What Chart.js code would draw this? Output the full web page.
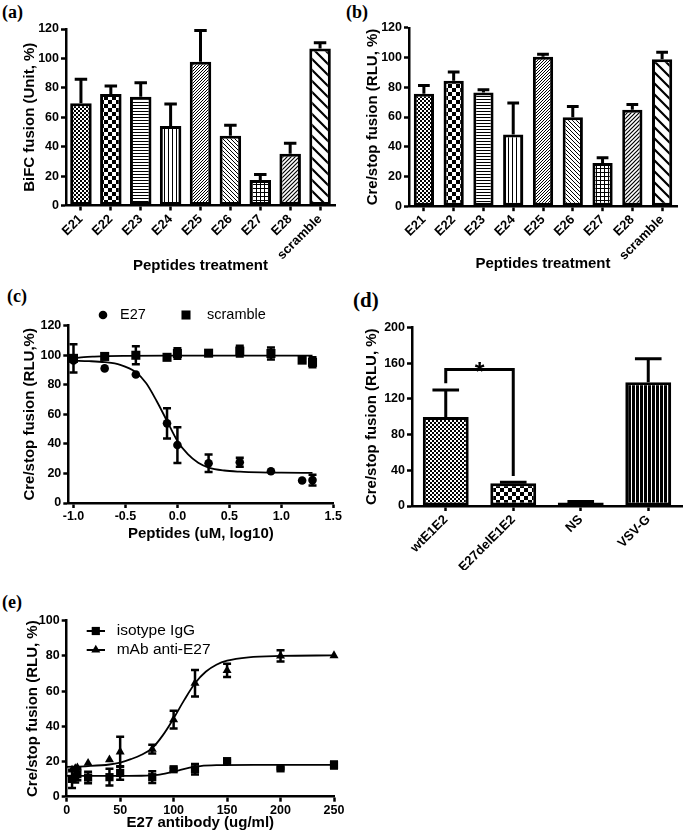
<!DOCTYPE html>
<html>
<head>
<meta charset="utf-8">
<script src="https://cdn.jsdelivr.net/npm/chart.js@4.4.1/dist/chart.umd.min.js"></script>
<style>
  html,body{margin:0;padding:0;background:#fff;}
  body{width:685px;height:838px;position:relative;overflow:hidden;}
  canvas{position:absolute;}
  .plabel{position:absolute;font-family:"Liberation Serif","Times New Roman",serif;font-weight:bold;font-size:18px;line-height:20px;color:#000;}
</style>
</head>
<body>
<div class="plabel" style="left:2px;top:2px">(a)</div>
<div class="plabel" style="left:346px;top:2px">(b)</div>
<div class="plabel" style="left:7px;top:286px">(c)</div>
<div class="plabel" style="left:353px;top:290px;font-size:21px">(d)</div>
<div class="plabel" style="left:2px;top:592px">(e)</div>

<canvas id="ca" width="340" height="285" style="left:0;top:0"></canvas>
<canvas id="cb" width="345" height="285" style="left:340px;top:0"></canvas>
<canvas id="cc" width="345" height="270" style="left:0;top:280px"></canvas>
<canvas id="cd" width="345" height="290" style="left:340px;top:280px"></canvas>
<canvas id="ce" width="345" height="258" style="left:0;top:580px"></canvas>

<script>
// ---------------- DATA ----------------
// Panel (a)
const peptides = ['E21','E22','E23','E24','E25','E26','E27','E28','scramble'];
const bifcMean = [69.5, 75.8, 74.0, 54.0, 97.7, 47.4, 17.4, 35.2, 106.7];
const bifcErr  = [16.3, 5.4, 9.5, 15.0, 21.3, 7.2, 3.7, 7.2, 4.0];
const aYTicks  = [0, 20, 40, 60, 80, 100, 120];

// Panel (b)
const creMean = [75.6, 84.4, 76.5, 48.2, 100.6, 59.9, 29.1, 64.8, 98.9];
const creErr  = [5.6, 5.9, 1.8, 21.3, 1.6, 7.1, 3.5, 3.6, 4.6];
const bYTicks = [0, 20, 40, 60, 80, 100, 120];

// Panel (c)
const cDoseX   = [-1.0, -0.7, -0.4, -0.1, 0.0, 0.3, 0.6, 0.9, 1.2, 1.3];
const e27Y     = [96.5, 91.1, 87.0, 53.9, 39.2, 26.9, 27.6, 21.5, 15.2, 15.5];
const e27Err   = [0, 0, 0, 10.3, 12.1, 5.9, 3.1, 0, 0, 3.6];
const scrY     = [97.9, 99.2, 100.0, 98.6, 101.2, 101.4, 102.8, 101.2, 96.7, 95.2];
const scrErr   = [9.5, 0, 6.1, 0, 3.6, 0, 3.7, 4.0, 1.2, 3.4];
const e27FitX  = [-1.0, -0.85, -0.7, -0.55, -0.4, -0.3, -0.2, -0.1, 0.0, 0.1, 0.2, 0.3, 0.45, 0.6, 0.8, 1.0, 1.3];
const e27FitY  = [96.3, 96.0, 95.3, 93.5, 88.5, 81.0, 69.0, 55.5, 42.0, 33.0, 27.2, 24.0, 22.0, 21.2, 20.7, 20.5, 20.4];
const scrFitX  = [-1.0, -0.9, -0.8, -0.7, -0.5, 0.0, 0.5, 1.0, 1.3];
const scrFitY  = [98.0, 98.7, 99.1, 99.4, 99.6, 99.7, 99.7, 99.7, 99.7];
const cXTicks  = [-1.0, -0.5, 0.0, 0.5, 1.0, 1.5];
const cYTicks  = [0, 20, 40, 60, 80, 100, 120];

// Panel (d)
const constructs = ['wtE1E2', 'E27delE1E2', 'NS', 'VSV-G'];
const dMean   = [99.6, 25.5, 3.8, 138.6];
const dErr    = [30.5, 1.0, 1.3, 26.4];
const dYTicks = [0, 40, 80, 120, 160, 200];
const dSigPair   = [0, 1];
const dSigLevels = [137.5, 153, 33.6];   // left end, bracket top, right end
const dSigLabel  = '*';

// Panel (e)
const abDose   = [5, 8, 10, 20, 40, 50, 80, 100, 120, 150, 200, 250];
const igY      = [10.1, 11.4, 12.8, 10.9, 11.1, 13.5, 11.1, 15.6, 15.6, 20.2, 16.1, 18.0];
const igErr    = [5.2, 3.3, 3.4, 3.3, 4.8, 3.8, 3.3, 0.8, 3.0, 0.5, 0.5, 2.0];
const antiY    = [15.2, 16.0, 16.5, 19.1, 21.0, 25.5, 27.0, 43.8, 64.5, 71.8, 80.0, 80.2];
const antiErr  = [0, 0, 0, 0, 0, 8.5, 2.5, 5.0, 7.5, 3.8, 3.2, 0];
const igFitX   = [0, 40, 70, 85, 95, 105, 115, 125, 140, 175, 250];
const igFitY   = [11.8, 11.8, 11.9, 12.4, 13.5, 15.0, 16.5, 17.4, 17.9, 18.1, 18.1];
const antiFitX = [0, 20, 40, 50, 60, 70, 80, 90, 100, 110, 120, 130, 140, 150, 170, 200, 250];
const antiFitY = [17.0, 17.4, 18.3, 19.4, 21.3, 23.8, 27.6, 35.0, 44.5, 55.0, 64.5, 71.0, 75.0, 77.3, 79.2, 80.0, 80.3];
const eXTicks  = [0, 50, 100, 150, 200, 250];
const eYTicks  = [0, 20, 40, 60, 80, 100];

// ---------------- STYLE HELPERS ----------------
const FONT = '"Liberation Sans", Arial, Helvetica, sans-serif';
const BLACK = '#000';

function diag(g, s, lw, up) {
  g.lineWidth = lw; g.beginPath();
  if (up) {
    g.moveTo(-1, s + 1); g.lineTo(s + 1, -1);
    g.moveTo(-1, 1); g.lineTo(1, -1);
    g.moveTo(s - 1, s + 1); g.lineTo(s + 1, s - 1);
  } else {
    g.moveTo(-1, -1); g.lineTo(s + 1, s + 1);
    g.moveTo(-1, s - 1); g.lineTo(1, s + 1);
    g.moveTo(s - 1, -1); g.lineTo(s + 1, 1);
  }
  g.stroke();
}
function makePattern(kind) {
  const sizes = {fine:4, checker:8, hlines:3, vlines:4, slashFine:3, back:4, grid:4, slash:4, scramble:11, solid:2, vsv:4};
  const s = sizes[kind];
  const c = document.createElement('canvas'); c.width = s; c.height = s;
  const g = c.getContext('2d');
  g.fillStyle = '#fff'; g.fillRect(0, 0, s, s);
  g.fillStyle = '#000'; g.strokeStyle = '#000';
  switch (kind) {
    case 'fine': g.fillRect(0,0,2,2); g.fillRect(2,2,2,2); break;
    case 'checker': g.fillRect(0,0,4,4); g.fillRect(4,4,4,4); break;
    case 'hlines': g.fillRect(0,0,s,1); break;
    case 'vlines': g.fillRect(0,0,1,s); break;
    case 'grid': g.fillRect(0,0,s,1); g.fillRect(0,0,1,s); break;
    case 'solid': g.fillRect(0,0,s,s); break;
    case 'vsv': g.fillRect(0,0,3,s); break;
    case 'slashFine': diag(g, s, 1, true); break;
    case 'slash': diag(g, s, 1.2, true); break;
    case 'back': diag(g, s, 1, false); break;
    case 'scramble': diag(g, s, 2.2, false); break;
  }
  return g.createPattern(c, 'repeat');
}
const peptidePatterns = ['fine','checker','hlines','vlines','slashFine','back','grid','slash','scramble'].map(makePattern);
const constructPatterns = ['fine','checker','solid','vsv'].map(makePattern);

function tickFont(size) { return {family: FONT, size: size, weight: 'bold'}; }
function titleOpt(text) {
  return {display: true, text: text, color: BLACK, font: {family: FONT, size: 15, weight: 'bold'}, padding: {top: 4, bottom: 4}};
}
function gridOpt(offset) {
  return {display: true, offset: offset, drawOnChartArea: false, drawTicks: true, tickLength: 5, tickColor: BLACK, tickWidth: 2.5, color: BLACK};
}
function yAxis(min, max, tickArr, title, width) {
  return {
    type: 'linear', min: min, max: max,
    afterBuildTicks: s => { s.ticks = tickArr.map(v => ({value: v})); },
    afterFit: s => { s.width = width; },
    ticks: {color: BLACK, font: tickFont(12.5), padding: 2},
    grid: gridOpt(false),
    border: {display: true, color: BLACK, width: 2.5},
    title: titleOpt(title)
  };
}
function xCategory(title, height) {
  return {
    type: 'category', offset: true,
    afterFit: s => { s.height = height; s.paddingLeft = 0; s.paddingRight = 0; },
    ticks: {color: BLACK, font: tickFont(13), minRotation: 45, maxRotation: 45, autoSkip: false, padding: 1},
    grid: gridOpt(false),
    border: {display: true, color: BLACK, width: 2.5},
    title: title ? titleOpt(title) : {display: false}
  };
}
function xLinear(min, max, tickArr, title, height, fmt) {
  return {
    type: 'linear', min: min, max: max,
    afterBuildTicks: s => { s.ticks = tickArr.map(v => ({value: v})); },
    afterFit: s => { s.height = height; s.paddingLeft = 0; s.paddingRight = 0; },
    ticks: {color: BLACK, font: tickFont(12.5), minRotation: 0, maxRotation: 0, padding: 1, callback: fmt},
    grid: gridOpt(false),
    border: {display: true, color: BLACK, width: 2.5},
    title: titleOpt(title)
  };
}
function baseOptions(scales, padding) {
  return {
    responsive: false, animation: false, devicePixelRatio: 1, events: [],
    layout: {padding: padding},
    plugins: {legend: {display: false}, tooltip: {enabled: false}, title: {display: false}},
    scales: scales
  };
}

// ---------------- PLUGINS ----------------
const errorBarPlugin = {
  id: 'errorBars',
  afterDatasetsDraw(chart) {
    const ctx = chart.ctx;
    chart.data.datasets.forEach((ds, di) => {
      if (!ds.errors) return;
      const meta = chart.getDatasetMeta(di);
      const yScale = chart.scales[meta.yAxisID];
      ctx.save();
      ctx.strokeStyle = BLACK;
      ctx.lineWidth = ds.errorLineWidth || 2.5;
      ctx.lineCap = 'butt';
      meta.data.forEach((el, i) => {
        const e = ds.errors[i];
        if (!e) return;
        const raw = ds.data[i];
        const v = (typeof raw === 'object') ? raw.y : raw;
        const x = el.x;
        ctx.beginPath();
        if (ds.errorMode === 'up') {
          const y1 = yScale.getPixelForValue(v);
          const y2 = yScale.getPixelForValue(v + e);
          const half = el.width * ds.capRatio / 2;
          ctx.moveTo(x, y1); ctx.lineTo(x, y2);
          ctx.moveTo(x - half, y2); ctx.lineTo(x + half, y2);
        } else {
          const y1 = yScale.getPixelForValue(v - e);
          const y2 = yScale.getPixelForValue(v + e);
          const half = ds.capHalf || 4;
          ctx.moveTo(x, y1); ctx.lineTo(x, y2);
          ctx.moveTo(x - half, y1); ctx.lineTo(x + half, y1);
          ctx.moveTo(x - half, y2); ctx.lineTo(x + half, y2);
        }
        ctx.stroke();
      });
      ctx.restore();
    });
  }
};

function pointLegend(items, fontSize) {
  return {
    id: 'pointLegend',
    afterDraw(chart) {
      const ctx = chart.ctx;
      ctx.save();
      ctx.fillStyle = BLACK; ctx.strokeStyle = BLACK;
      ctx.font = fontSize + 'px ' + FONT;
      ctx.textBaseline = 'middle'; ctx.textAlign = 'left';
      items.forEach(it => {
        const ds = chart.data.datasets[it.ds];
        if (it.lineFrom != null) {
          ctx.lineWidth = 2;
          ctx.beginPath(); ctx.moveTo(it.lineFrom, it.y); ctx.lineTo(it.lineTo, it.y); ctx.stroke();
        }
        Chart.helpers.drawPoint(ctx, {pointStyle: ds.pointStyle, radius: ds.pointRadius, borderWidth: 0, rotation: 0}, it.x, it.y);
        ctx.fillText(ds.label, it.tx, it.y);
      });
      ctx.restore();
    }
  };
}

function bracketPlugin(pair, levels, label) {
  return {
    id: 'sigBracket',
    afterDatasetsDraw(chart) {
      const ctx = chart.ctx, xs = chart.scales.x, ys = chart.scales.y;
      const x1 = xs.getPixelForValue(pair[0]), x2 = xs.getPixelForValue(pair[1]);
      const yl = ys.getPixelForValue(levels[0]), yt = ys.getPixelForValue(levels[1]), yr = ys.getPixelForValue(levels[2]);
      ctx.save();
      ctx.strokeStyle = BLACK; ctx.lineWidth = 3; ctx.lineJoin = 'miter';
      ctx.beginPath(); ctx.moveTo(x1, yl); ctx.lineTo(x1, yt); ctx.lineTo(x2, yt); ctx.lineTo(x2, yr); ctx.stroke();
      ctx.fillStyle = BLACK; ctx.font = 'bold 25px ' + FONT;
      ctx.textAlign = 'center'; ctx.textBaseline = 'alphabetic';
      ctx.fillText(label, (x1 + x2) / 2, yt + 11);
      ctx.restore();
    }
  };
}

function barDataset(values, errs, patterns, barPct) {
  return {
    data: values, errors: errs, errorMode: 'up', capRatio: 0.58, errorLineWidth: 3,
    backgroundColor: patterns, borderColor: BLACK, borderWidth: 3, borderSkipped: false,
    categoryPercentage: 1, barPercentage: barPct
  };
}
function pts(xs, ys) { return xs.map((x, i) => ({x: x, y: ys[i]})); }
function curve(xs, ys) {
  return {data: pts(xs, ys), showLine: true, pointRadius: 0, borderColor: BLACK, borderWidth: 1.8,
          cubicInterpolationMode: 'monotone', fill: false};
}
function markers(label, xs, ys, errs, style, r) {
  return {label: label, data: pts(xs, ys), showLine: false, pointStyle: style, pointRadius: r,
          pointBackgroundColor: BLACK, pointBorderColor: BLACK, pointBorderWidth: 0,
          errors: errs, errorMode: 'both', capHalf: 4, errorLineWidth: 2.5, clip: false};
}

// ---------------- CHARTS ----------------
// (a)
new Chart(document.getElementById('ca'), {
  type: 'bar',
  data: {labels: peptides, datasets: [barDataset(bifcMean, bifcErr, peptidePatterns, 0.72)]},
  options: baseOptions({
    x: xCategory('Peptides treatment', 73.5),
    y: yAxis(0, 120, aYTicks, 'BiFC fusion (Unit, %)', 49)
  }, {left: 17, right: 5, top: 29, bottom: 6}),
  plugins: [errorBarPlugin]
});

// (b)
new Chart(document.getElementById('cb'), {
  type: 'bar',
  data: {labels: peptides, datasets: [barDataset(creMean, creErr, peptidePatterns, 0.68)]},
  options: baseOptions({
    x: xCategory('Peptides treatment', 70.8),
    y: yAxis(0, 120, bYTicks, 'Cre/stop fusion (RLU, %)', 49.5)
  }, {left: 19.5, right: 8, top: 27.8, bottom: 8}),
  plugins: [errorBarPlugin]
});

// (c)
new Chart(document.getElementById('cc'), {
  type: 'scatter',
  data: {datasets: [
    curve(e27FitX, e27FitY),
    curve(scrFitX, scrFitY),
    markers('E27', cDoseX, e27Y, e27Err, 'circle', 4.3),
    markers('scramble', cDoseX, scrY, scrErr, 'rect', 6.4)
  ]},
  options: baseOptions({
    x: xLinear(-1.05, 1.5, cXTicks, 'Peptides (uM, log10)', 44, v => Number(v).toFixed(1)),
    y: yAxis(0, 120, cYTicks, 'Cre/stop fusion (RLU,%)', 51.3)
  }, {left: 17, right: 11.7, top: 45.7, bottom: 3}),
  plugins: [errorBarPlugin, pointLegend([
    {ds: 2, x: 103, y: 35, tx: 120},
    {ds: 3, x: 186, y: 35, tx: 207}
  ], 14.5)]
});

// (d)
new Chart(document.getElementById('cd'), {
  type: 'bar',
  data: {labels: constructs, datasets: [barDataset(dMean, dErr, constructPatterns, 0.68)]},
  options: baseOptions({
    x: xCategory(null, 64),
    y: yAxis(0, 200, dYTicks, 'Cre/stop fusion (RLU, %)', 53)
  }, {left: 19, right: 3, top: 47.5, bottom: 0}),
  plugins: [errorBarPlugin, bracketPlugin(dSigPair, dSigLevels, dSigLabel)]
});

// (e)
new Chart(document.getElementById('ce'), {
  type: 'scatter',
  data: {datasets: [
    curve(igFitX, igFitY),
    curve(antiFitX, antiFitY),
    markers('isotype IgG', abDose, igY, igErr, 'rect', 5.8),
    markers('mAb anti-E27', abDose, antiY, antiErr, 'triangle', 5.2)
  ]},
  options: baseOptions({
    x: xLinear(0, 250, eXTicks, 'E27 antibody (ug/ml)', 39.5, v => String(v)),
    y: yAxis(0, 100, eYTicks, 'Cre/stop fusion (RLU, %)', 46.7)
  }, {left: 20, right: 11, top: 40.7, bottom: 1.8}),
  plugins: [errorBarPlugin, pointLegend([
    {ds: 2, x: 95.8, y: 51, tx: 116.7, lineFrom: 86.7, lineTo: 105},
    {ds: 3, x: 95.8, y: 70, tx: 116.7, lineFrom: 86.7, lineTo: 105}
  ], 15.5)]
});
</script>
</body>
</html>
